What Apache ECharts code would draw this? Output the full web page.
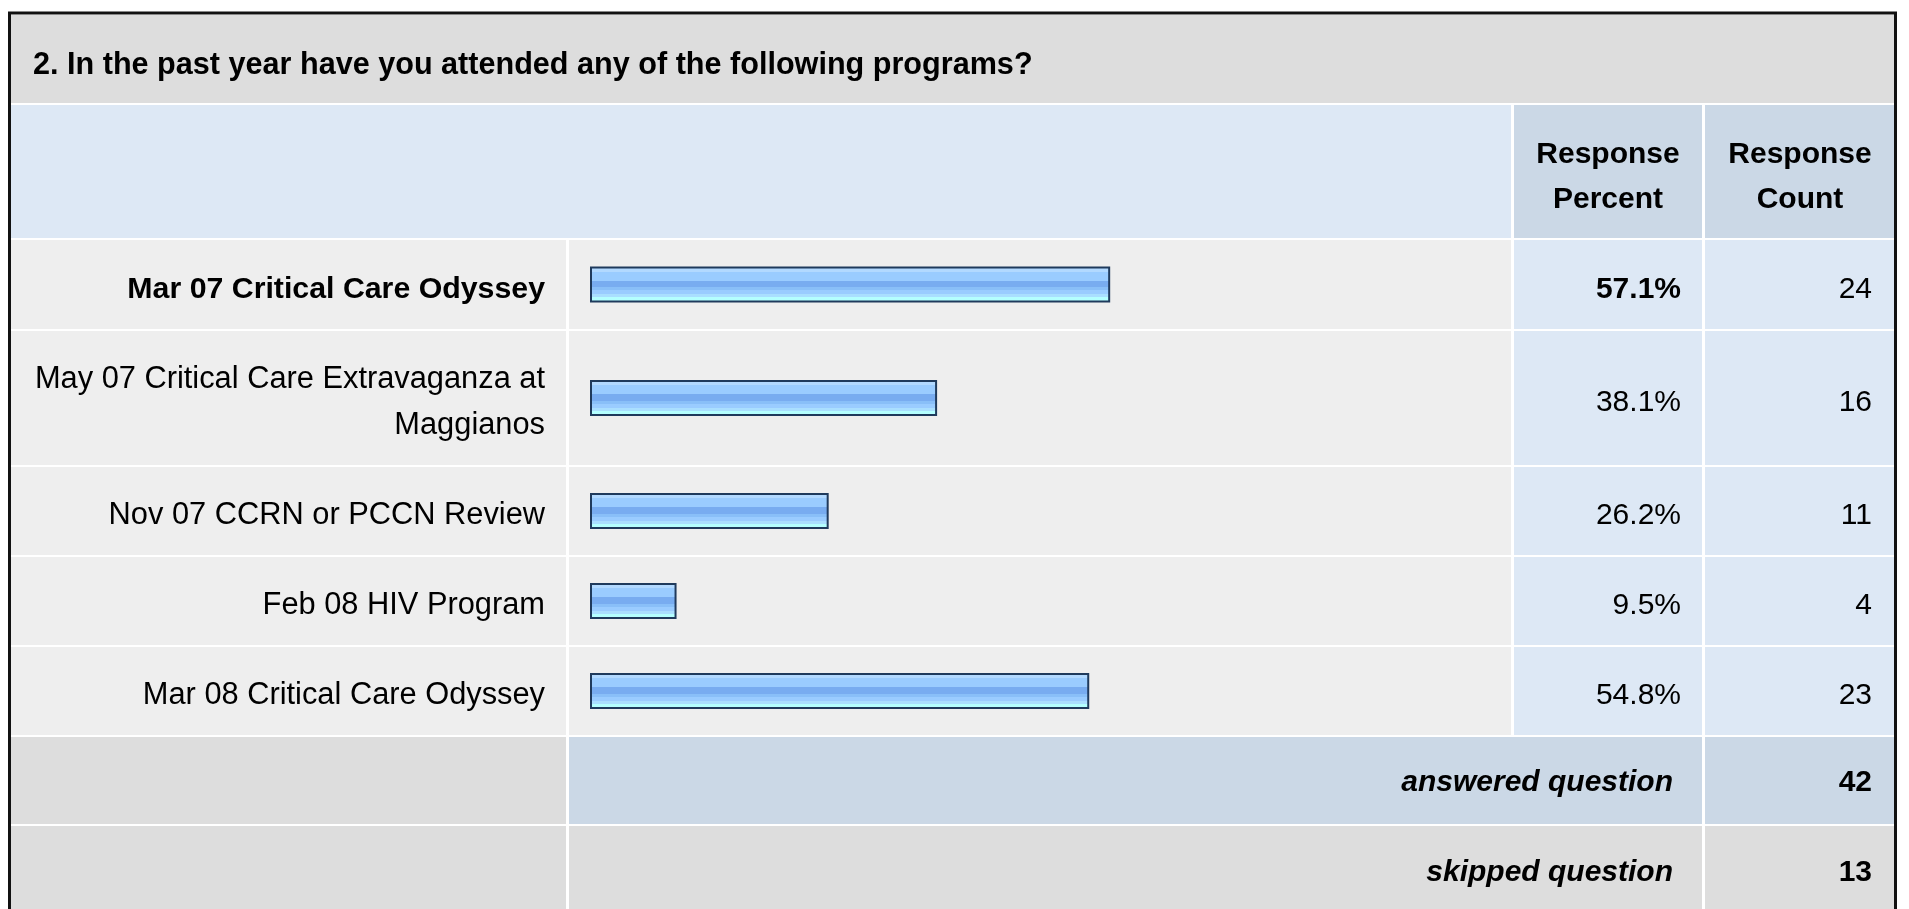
<!DOCTYPE html>
<html>
<head>
<meta charset="utf-8">
<script src="https://cdn.jsdelivr.net/npm/echarts@6/dist/echarts.min.js"></script>
<style>
  html, body { margin: 0; padding: 0; background: #fff; }
  #chart { width: 1909px; height: 909px; }
</style>
</head>
<body>
<div id="chart"></div>
<script>
const question = '2. In the past year have you attended any of the following programs?';
const programs = [
  'Mar 07 Critical Care Odyssey',
  'May 07 Critical Care Extravaganza at Maggianos',
  'Nov 07 CCRN or PCCN Review',
  'Feb 08 HIV Program',
  'Mar 08 Critical Care Odyssey',
];
const percents = [57.1, 38.1, 26.2, 9.5, 54.8];
const counts = [24, 16, 11, 4, 23];
const answered = 42;
const skipped = 13;

// table layout (px)
const font = "'Liberation Sans', Arial, sans-serif";
const col = { l0: 11, l1: 566, b0: 569, b1: 1511, p0: 1514, p1: 1702, c0: 1705, c1: 1894 };
const rowSpans = [[240, 329], [331, 465], [467, 555], [557, 645], [647, 735]];
const answeredRow = [737, 824];
const skippedRow = [826, 912];
const barLeft = 590;
const barFull = 911;

const barFill = {
  type: 'linear', x: 0, y: 0, x2: 0, y2: 1,
  colorStops: [
    { offset: 0, color: '#d2eaff' },
    { offset: 0.05, color: '#d2eaff' },
    { offset: 0.05, color: '#b2d9ff' },
    { offset: 0.14, color: '#b2d9ff' },
    { offset: 0.14, color: '#9accff' },
    { offset: 0.4, color: '#9accff' },
    { offset: 0.4, color: '#78acf0' },
    { offset: 0.58, color: '#78acf0' },
    { offset: 0.58, color: '#89bff8' },
    { offset: 0.66, color: '#89bff8' },
    { offset: 0.66, color: '#9accff' },
    { offset: 0.77, color: '#9accff' },
    { offset: 0.77, color: '#aadfff' },
    { offset: 0.85, color: '#aadfff' },
    { offset: 0.85, color: '#b4ffff' },
    { offset: 1, color: '#b4ffff' },
  ],
};

// word wrap for the long row names
function wrap(text, maxChars) {
  const lines = [];
  let line = '';
  text.split(' ').forEach((w) => {
    const next = line ? line + ' ' + w : w;
    if (next.length > maxChars && line) {
      lines.push(line);
      line = w;
    } else {
      line = next;
    }
  });
  lines.push(line);
  return lines;
}

function cell(x0, x1, y0, y1, fill) {
  return { type: 'rect', z: -10, silent: true, shape: { x: x0, y: y0, width: x1 - x0, height: y1 - y0 }, style: { fill } };
}
function label(x, y, text, align, opts) {
  return {
    type: 'text', z: 10, silent: true, x, y,
    style: Object.assign({ text, fontFamily: font, fontSize: 30, fill: '#000', align, verticalAlign: 'middle' }, opts || {}),
  };
}

const elements = [
  { type: 'rect', z: -20, silent: true, shape: { x: 9.5, y: 13, width: 1886, height: 920 }, style: { fill: '#fff', stroke: '#111', lineWidth: 3 } },
  cell(col.l0, col.c1, 15, 103, '#dddddd'),
  cell(col.l0, col.b1, 105, 238, '#dde8f5'),
  cell(col.p0, col.p1, 105, 238, '#cbd8e6'),
  cell(col.c0, col.c1, 105, 238, '#cbd8e6'),
  label(33, 66, question, 'left', { fontWeight: 'bold', fontSize: 30.6 }),
  label(1608, 177, 'Response\nPercent', 'center', { fontWeight: 'bold', lineHeight: 45 }),
  label(1800, 177, 'Response\nCount', 'center', { fontWeight: 'bold', lineHeight: 45 }),
];

rowSpans.forEach(([y0, y1], i) => {
  const mid = (y0 + y1) / 2 + 5;
  const weight = i === 0 ? 'bold' : 'normal';
  elements.push(
    cell(col.l0, col.l1, y0, y1, '#eeeeee'),
    cell(col.b0, col.b1, y0, y1, '#eeeeee'),
    cell(col.p0, col.p1, y0, y1, '#dde8f5'),
    cell(col.c0, col.c1, y0, y1, '#dde8f5'),
    label(1681, mid, percents[i].toFixed(1) + '%', 'right', { fontWeight: weight }),
    label(1872, mid, String(counts[i]), 'right')
  );
});

const ansMid = (answeredRow[0] + answeredRow[1]) / 2 + 2;
const skipMid = (skippedRow[0] + skippedRow[1]) / 2 + 4;
elements.push(
  cell(col.l0, col.l1, answeredRow[0], answeredRow[1], '#dddddd'),
  cell(col.b0, col.p1, answeredRow[0], answeredRow[1], '#cbd8e6'),
  cell(col.c0, col.c1, answeredRow[0], answeredRow[1], '#cbd8e6'),
  label(1673, ansMid, 'answered question', 'right', { fontWeight: 'bold', fontStyle: 'italic' }),
  label(1872, ansMid, String(answered), 'right', { fontWeight: 'bold' }),
  cell(col.l0, col.l1, skippedRow[0], skippedRow[1], '#dddddd'),
  cell(col.b0, col.p1, skippedRow[0], skippedRow[1], '#dddddd'),
  cell(col.c0, col.c1, skippedRow[0], skippedRow[1], '#dddddd'),
  label(1673, skipMid, 'skipped question', 'right', { fontWeight: 'bold', fontStyle: 'italic' }),
  label(1872, skipMid, String(skipped), 'right', { fontWeight: 'bold' })
);

// one grid per row so bars sit in their own table row
const grid = rowSpans.map(([y0, y1]) => ({ left: barLeft, width: barFull, top: y0, height: y1 - y0 }));
const xAxis = rowSpans.map((_, i) => ({ type: 'value', gridIndex: i, min: 0, max: 100, show: false }));
const yAxis = rowSpans.map((_, i) => ({
  type: 'category',
  gridIndex: i,
  data: [programs[i]],
  z: 10,
  axisLine: { show: false },
  axisTick: { show: false },
  axisLabel: {
    margin: 45,
    formatter: (value) => wrap(value, 36).map((l) => '{t|' + l + '}').join('\n'),
    rich: {
      t: {
        fontFamily: font,
        fontSize: i === 0 ? 30.3 : 30.8,
        color: '#000',
        fontWeight: i === 0 ? 'bold' : 'normal',
        lineHeight: 46,
        padding: [10, 0, 0, 0],
      },
    },
  },
}));
const series = rowSpans.map((_, i) => ({
  type: 'bar',
  xAxisIndex: i,
  yAxisIndex: i,
  data: [percents[i]],
  barWidth: 36,
  z: 5,
  itemStyle: { color: barFill, borderColor: '#1f3a5c', borderWidth: 2 },
}));

const chart = echarts.init(document.getElementById('chart'));
chart.setOption({
  animation: false,
  backgroundColor: '#ffffff',
  graphic: { elements },
  grid,
  xAxis,
  yAxis,
  series,
});
</script>
</body>
</html>
